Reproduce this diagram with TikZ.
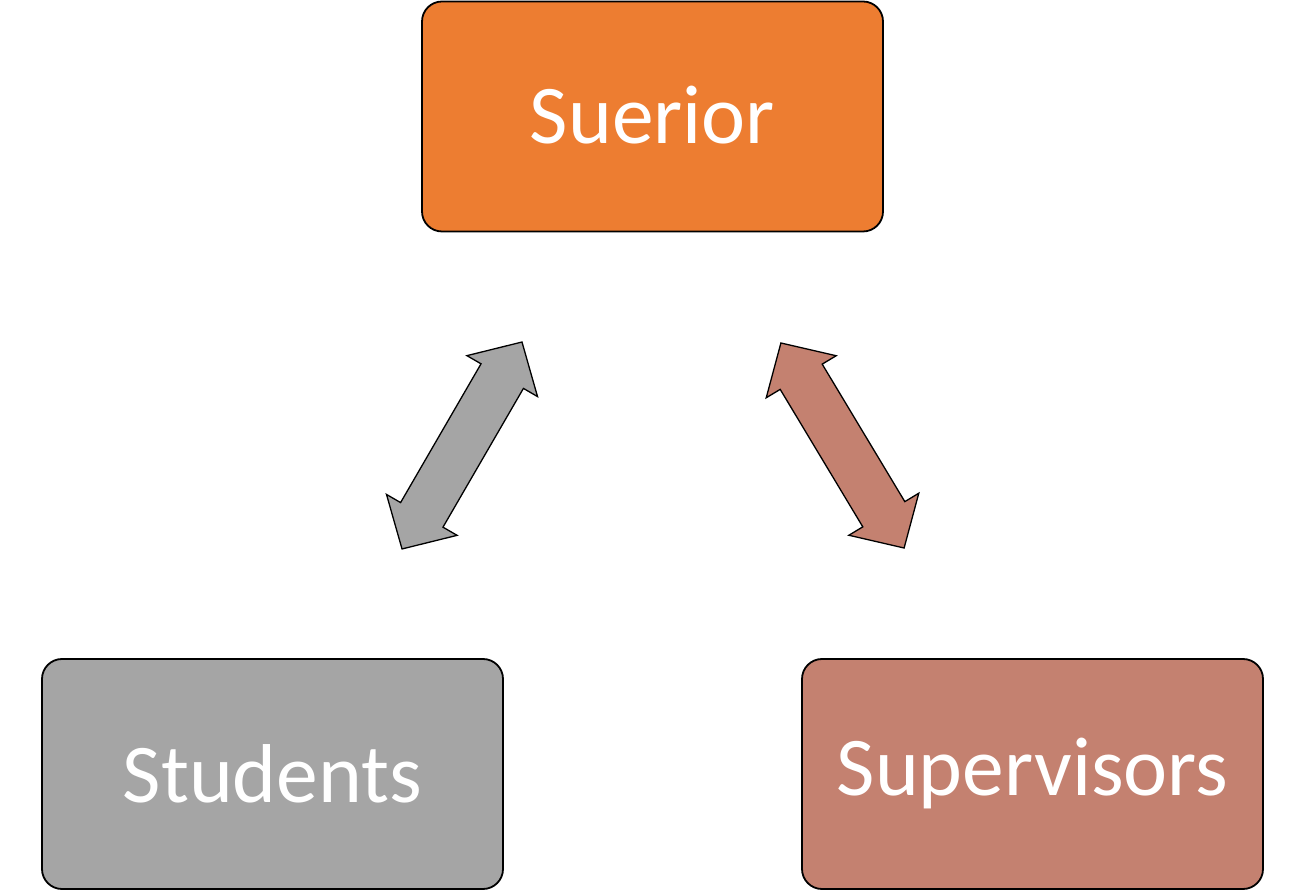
\documentclass[tikz,border=0pt]{standalone}
\usepackage{fontspec}
\setmainfont{Carlito}
\definecolor{orangeA}{HTML}{ED7D31}
\definecolor{grayA}{HTML}{A5A5A5}
\definecolor{brownA}{HTML}{C48170}
\tikzset{
  boxnode/.style={draw=black, line width=1.8pt, rounded corners=20pt,
    minimum width=461pt, minimum height=230pt, inner sep=0pt,
    text=white, font=\fontsize{83.5}{95}\selectfont},
  blockarrow/.style={draw=black, line width=1.3pt, line join=miter}
}
\newcommand{\dblarrowpath}{(-119.6,0) -- (-80.2,40.8) -- (-80.2,24.5) -- (80.2,24.5) -- (80.2,40.8) -- (119.6,0) -- (80.2,-40.8) -- (80.2,-24.5) -- (-80.2,-24.5) -- (-80.2,-40.8) -- cycle}
\begin{document}
\begin{tikzpicture}[x=1pt,y=1pt]
\useasboundingbox (0,0) rectangle (1305,891);
\node[boxnode, fill=orangeA] (sup) at (652.5,774.5) {\raisebox{3pt}{Suerior}};
\node[boxnode, fill=grayA] (stu) at (272.5,117) {Students};
\node[boxnode, fill=brownA] (svs) at (1032.5,117) {Supervisors};
\coordinate (la) at (462,445.5);
\coordinate (ra) at (842.5,445.5);
\begin{scope}[shift={(la)}, rotate=59.9]
  \draw[blockarrow, fill=grayA] \dblarrowpath;
\end{scope}
\begin{scope}[shift={(ra)}, rotate=121]
  \draw[blockarrow, fill=brownA] \dblarrowpath;
\end{scope}
\end{tikzpicture}
\end{document}
